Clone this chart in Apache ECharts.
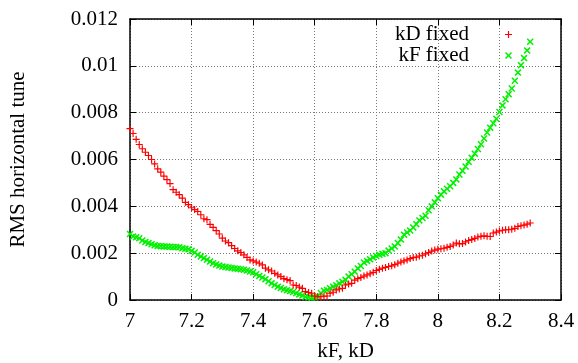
<!DOCTYPE html>
<html><head><meta charset="utf-8">
<script src="https://cdn.jsdelivr.net/npm/echarts@6/dist/echarts.min.js"></script>
<style>html,body{margin:0;padding:0;background:#fff}#c{width:578px;height:363px}</style>
</head><body><div id="c"></div>
<script>
const kValues = [7.00,7.01,7.02,7.03,7.04,7.05,7.06,7.07,7.08,7.09,
7.10,7.11,7.12,7.13,7.14,7.15,7.16,7.17,7.18,7.19,
7.20,7.21,7.22,7.23,7.24,7.25,7.26,7.27,7.28,7.29,
7.30,7.31,7.32,7.33,7.34,7.35,7.36,7.37,7.38,7.39,
7.40,7.41,7.42,7.43,7.44,7.45,7.46,7.47,7.48,7.49,
7.50,7.51,7.52,7.53,7.54,7.55,7.56,7.57,7.58,7.59,
7.60,7.61,7.62,7.63,7.64,7.65,7.66,7.67,7.68,7.69,
7.70,7.71,7.72,7.73,7.74,7.75,7.76,7.77,7.78,7.79,
7.80,7.81,7.82,7.83,7.84,7.85,7.86,7.87,7.88,7.89,
7.90,7.91,7.92,7.93,7.94,7.95,7.96,7.97,7.98,7.99,
8.00,8.01,8.02,8.03,8.04,8.05,8.06,8.07,8.08,8.09,
8.10,8.11,8.12,8.13,8.14,8.15,8.16,8.17,8.18,8.19,
8.20,8.21,8.22,8.23,8.24,8.25,8.26,8.27,8.28,8.29,8.30];

const kdFixed = [0.00732,0.00711,0.00686,0.00664,0.00646,0.00631,0.00617,0.00600,0.00581,0.00560,
0.00546,0.00529,0.00514,0.00497,0.00471,0.00460,0.00450,0.00435,0.00417,0.00407,
0.00394,0.00386,0.00378,0.00364,0.00347,0.00343,0.00323,0.00310,0.00296,0.00282,
0.00264,0.00252,0.00245,0.00232,0.00220,0.00210,0.00203,0.00193,0.00182,0.00171,
0.00167,0.00162,0.00157,0.00150,0.00136,0.00129,0.00124,0.00114,0.00107,0.00100,
0.00091,0.00087,0.00083,0.00064,0.00062,0.00055,0.00050,0.00036,0.00032,0.00029,
0.00017,0.00015,0.00014,0.00016,0.00017,0.00029,0.00033,0.00043,0.00047,0.00050,
0.00064,0.00068,0.00071,0.00085,0.00091,0.00096,0.00102,0.00107,0.00112,0.00118,
0.00126,0.00131,0.00136,0.00139,0.00143,0.00146,0.00151,0.00157,0.00162,0.00167,
0.00171,0.00177,0.00181,0.00183,0.00188,0.00191,0.00197,0.00203,0.00209,0.00213,
0.00217,0.00219,0.00221,0.00225,0.00229,0.00235,0.00243,0.00240,0.00241,0.00248,
0.00254,0.00258,0.00263,0.00269,0.00272,0.00274,0.00272,0.00271,0.00286,0.00290,
0.00295,0.00298,0.00300,0.00300,0.00302,0.00306,0.00314,0.00317,0.00320,0.00324,0.00329];

const kfFixed = [0.00282,0.00271,0.00268,0.00264,0.00254,0.00248,0.00243,0.00238,0.00234,0.00231,
0.00230,0.00229,0.00228,0.00227,0.00226,0.00226,0.00225,0.00221,0.00219,0.00217,
0.00210,0.00203,0.00193,0.00186,0.00179,0.00172,0.00164,0.00157,0.00152,0.00147,
0.00143,0.00141,0.00139,0.00137,0.00135,0.00133,0.00131,0.00129,0.00126,0.00122,
0.00118,0.00110,0.00103,0.00096,0.00089,0.00080,0.00071,0.00064,0.00057,0.00051,
0.00046,0.00042,0.00038,0.00034,0.00029,0.00024,0.00019,0.00014,0.00012,0.00010,
0.00012,0.00016,0.00030,0.00040,0.00043,0.00050,0.00057,0.00063,0.00071,0.00078,
0.00086,0.00100,0.00110,0.00121,0.00135,0.00145,0.00160,0.00167,0.00174,0.00182,
0.00188,0.00193,0.00197,0.00200,0.00211,0.00220,0.00229,0.00243,0.00258,0.00279,
0.00288,0.00297,0.00310,0.00324,0.00340,0.00350,0.00360,0.00383,0.00400,0.00417,
0.00435,0.00450,0.00464,0.00475,0.00486,0.00500,0.00515,0.00536,0.00552,0.00570,
0.00590,0.00607,0.00625,0.00645,0.00665,0.00690,0.00715,0.00736,0.00755,0.00774,
0.00803,0.00831,0.00857,0.00879,0.00903,0.00936,0.00971,0.01003,0.01033,0.01066,0.01103];

const seriesNames = ['kD fixed', 'kF fixed'];
const xAxisName = 'kF, kD';
const yAxisName = 'RMS horizontal tune';

const FONT = 'Liberation Serif';
const FS = 21;
const RED = '#ff0000';
const GREEN = '#00f000';
const plusPath = 'path://M2.5,0h1v2.5h2.5v1h-2.5v2.5h-1v-2.5h-2.5v-1h2.5z';
const crossPath = 'path://M0,0.9L0.9,0L3,2.1L5.1,0L6,0.9L3.9,3L6,5.1L5.1,6L3,3.9L0.9,6L0,5.1L2.1,3Z';
const fmt = v => String(+(+v).toFixed(4));

const chart = echarts.init(document.getElementById('c'), null, {renderer: 'canvas'});
const axisLineStyle = {show: true, onZero: false, lineStyle: {color: '#000', width: 1.5}};
const axisTickStyle = {show: true, inside: true, length: 6, lineStyle: {color: '#000', width: 1}};
const gridLine = {show: true, lineStyle: {color: '#777', type: [1, 2], width: 1}};
chart.setOption({
  animation: false,
  backgroundColor: '#fff',
  textStyle: {fontFamily: FONT},
  grid: {left: 130, right: 17, top: 19, bottom: 63, show: false, containLabel: false, outerBoundsMode: 'none'},
  legend: {
    orient: 'vertical', right: 61, top: 19, align: 'right', itemGap: 0,
    itemWidth: 7, itemHeight: 7,
    textStyle: {fontFamily: FONT, fontSize: FS, color: '#000', padding: [0, 31, 0, 0], lineHeight: 21},
    data: [
      {name: seriesNames[0], icon: plusPath, itemStyle: {color: RED}},
      {name: seriesNames[1], icon: crossPath, itemStyle: {color: GREEN}}
    ]
  },
  xAxis: [{
    type: 'value', min: 7, max: 8.4, interval: 0.2, position: 'bottom',
    name: xAxisName, nameLocation: 'middle', nameGap: 41,
    nameTextStyle: {fontFamily: FONT, fontSize: FS, color: '#000'},
    axisLabel: {fontFamily: FONT, fontSize: FS, color: '#000', margin: 11, formatter: fmt},
    splitLine: gridLine, axisLine: axisLineStyle, axisTick: axisTickStyle
  }, {
    type: 'value', min: 7, max: 8.4, interval: 0.2, position: 'top',
    axisLabel: {show: false}, splitLine: {show: false},
    axisLine: axisLineStyle, axisTick: axisTickStyle
  }],
  yAxis: [{
    type: 'value', min: 0, max: 0.012, interval: 0.002, position: 'left',
    name: yAxisName, nameLocation: 'middle', nameGap: 101, nameRotate: 90,
    nameTextStyle: {fontFamily: FONT, fontSize: FS, color: '#000'},
    axisLabel: {fontFamily: FONT, fontSize: FS, color: '#000', margin: 12, formatter: fmt},
    splitLine: gridLine, axisLine: axisLineStyle, axisTick: axisTickStyle
  }, {
    type: 'value', min: 0, max: 0.012, interval: 0.002, position: 'right',
    axisLabel: {show: false}, splitLine: {show: false},
    axisLine: axisLineStyle, axisTick: axisTickStyle
  }],
  series: [{
    name: seriesNames[0], type: 'scatter', symbol: plusPath, symbolSize: 7,
    itemStyle: {color: RED, opacity: 1},
    data: kValues.map((k, i) => [k, kdFixed[i]]), z: 3
  }, {
    name: seriesNames[1], type: 'scatter', symbol: crossPath, symbolSize: 7,
    itemStyle: {color: GREEN, opacity: 1},
    data: kValues.map((k, i) => [k, kfFixed[i]]), z: 2
  }]
});
</script></body></html>
